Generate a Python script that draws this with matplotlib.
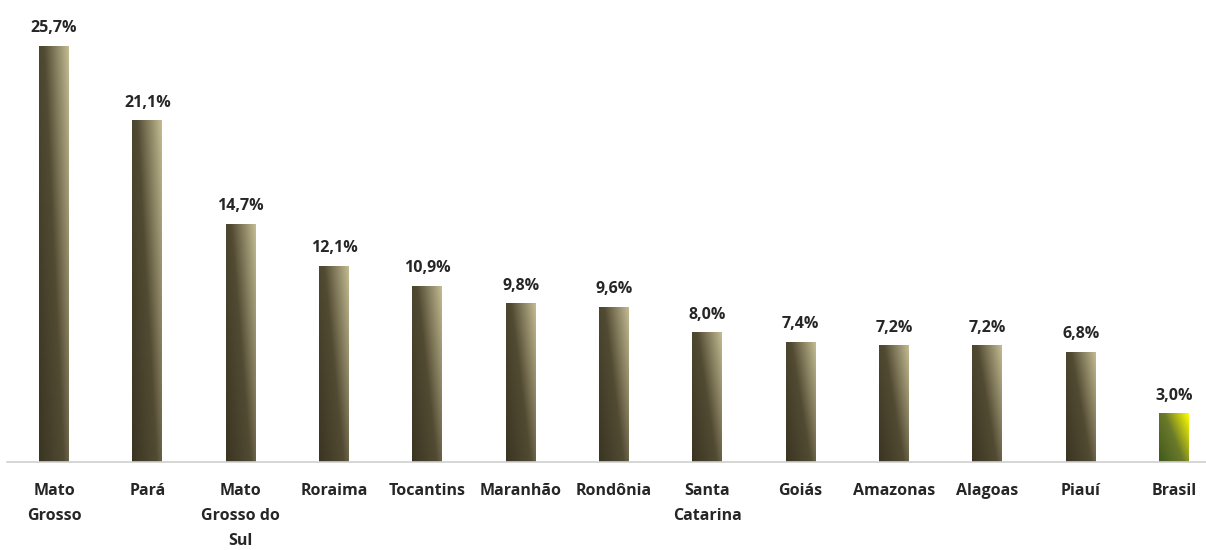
import numpy as np
import matplotlib.pyplot as plt
from matplotlib.colors import LinearSegmentedColormap

estados = ["Mato\nGrosso", "Pará", "Mato\nGrosso do\nSul", "Roraima", "Tocantins",
           "Maranhão", "Rondônia", "Santa\nCatarina", "Goiás", "Amazonas",
           "Alagoas", "Piauí", "Brasil"]
valores = [25.7, 21.1, 14.7, 12.1, 10.9, 9.8, 9.6, 8.0, 7.4, 7.2, 7.2, 6.8, 3.0]
rotulos = ["25,7%", "21,1%", "14,7%", "12,1%", "10,9%", "9,8%", "9,6%",
           "8,0%", "7,4%", "7,2%", "7,2%", "6,8%", "3,0%"]

plt.rcParams['font.family'] = ['Open Sans', 'DejaVu Sans']

fig = plt.figure(figsize=(12.06, 5.5), dpi=100)
ax = fig.add_axes([0, 88 / 550, 1, 462 / 550])

x = np.arange(len(valores))
largura = 0.32

# degradê diagonal: escuro embaixo à esquerda, claro em cima à direita
cmap_uf = LinearSegmentedColormap.from_list("uf", ["#3a3522", "#524b33", "#c3bb92"])
cmap_br = LinearSegmentedColormap.from_list("br", ["#3f5a1c", "#6b7a2a", "#ffff00"])

u, v = np.meshgrid(np.linspace(0, 1, 60), np.linspace(0, 1, 200))
grad = u * 0.6 + v * 0.4

for i, val in enumerate(valores):
    cmap = cmap_br if estados[i] == "Brasil" else cmap_uf
    barras = ax.bar(x[i], val, width=largura, color="none", edgecolor="none")
    im = ax.imshow(grad, cmap=cmap, origin="lower", aspect="auto",
                   extent=(x[i] - largura / 2, x[i] + largura / 2, 0, val),
                   vmin=0, vmax=1, zorder=2)
    im.set_clip_path(barras[0])
    ax.text(x[i], val + 0.6, rotulos[i], ha="center", va="bottom",
            fontsize=11.5, fontweight="bold", color="#262626")

ax.plot([-0.5, 12.6], [0, 0], color="#d0d0d0", lw=1.2, clip_on=False, zorder=3)

for i, nome in enumerate(estados):
    ax.text(x[i], -1.3, nome, ha="center", va="top", fontsize=11.5,
            fontweight="bold", color="#262626", linespacing=1.75)

ax.set_xlim(-54 / 93.33, (1206 - 54) / 93.33)
ax.set_ylim(0, 462 / 16.19)
ax.axis("off")

fig.savefig("out.png", dpi=100)
